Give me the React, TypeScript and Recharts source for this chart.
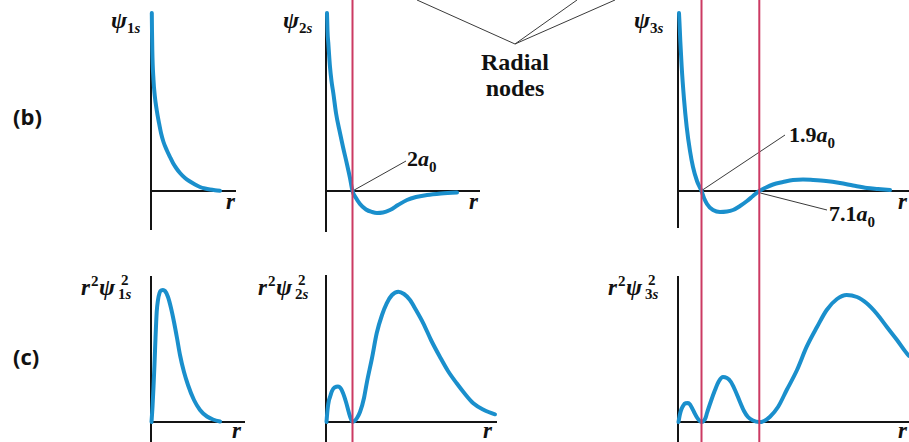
import React from "react";
import { LineChart, Line, XAxis, YAxis, ReferenceLine } from "recharts";

// ---------- data (r in arbitrary units, value in arbitrary units) ----------
const psi1s: [number, number][] = [
  [0.8, 178], [1, 160], [1.3, 141], [2.5, 111], [3.8, 95], [5.7, 81], [8, 68], [10, 58], [12.5, 49],
  [15.7, 41], [19, 34], [22, 28], [25.5, 22.5], [29, 18], [34, 13], [39, 9.5], [44, 6.5], [49, 4],
  [54, 2.5], [59, 1.5], [64, 0.8], [69, 0.3],
];
const rho1s: [number, number][] = [
  [0.5, 0], [1.5, 15], [2.5, 35], [3.5, 58], [4.5, 84], [5.7, 110], [7, 122], [8.5, 129],
  [10, 131.5], [12, 132], [14, 131], [17, 125], [20, 114], [23, 100], [26, 84], [29, 67],
  [33, 50], [37, 37], [43, 22], [49, 12], [56, 5.5], [62, 2.5], [69, 0.5],
];
const psi2s: [number, number][] = [
  [1, 178], [1.5, 160], [2.3, 148], [4, 124], [5.5, 110], [7.3, 98], [10, 78], [14, 58], [17, 44],
  [20.7, 28], [24, 13], [26.5, 0], [30, -7], [34, -13], [40, -18.5], [46, -21], [51, -22],
  [57, -21.5], [64, -19], [72, -14], [81, -9], [90, -6], [101, -4], [115, -2.5], [131, -1.5],
];
const rho2s: [number, number][] = [
  [0.5, 0], [1.5, 12], [3, 22], [4, 25], [6, 31], [8.5, 34.5], [12, 35.5], [14.5, 34],
  [17, 29], [20, 20], [23, 9], [25, 3], [26.5, 0], [28.5, 1], [31, 4], [34, 10], [38, 24],
  [40.7, 38.7], [46, 64], [50.7, 88.7], [56, 107], [60.7, 118.7], [66, 127], [72.3, 130.3],
  [78, 128], [84, 122], [90, 112], [97.3, 98.7], [105, 82], [114, 65], [122, 51], [130.7, 38.7],
  [139, 28], [147.3, 18.7], [158, 12], [169, 7.7],
];
const psi3s: [number, number][] = [
  [1, 178], [1.5, 168], [2.3, 150], [3.7, 124], [6, 92], [8.7, 64], [12, 40], [15, 24],
  [19, 10], [23.5, 0], [26, -7], [29, -13], [35, -19], [42, -21], [49, -20.5], [55, -19],
  [62, -15], [69, -10], [75, -5], [81.3, 0], [88, 3.5], [95, 6.5], [105, 9], [115, 11],
  [125, 11.5], [135, 11], [148, 10], [162, 8], [175, 5.5], [189, 3], [200, 2], [212, 1],
];
const rho3s: [number, number][] = [
  [0.5, 0], [2, 8], [3.5, 13], [5, 16], [7.5, 18.7], [10, 19], [12, 17.5], [14, 14],
  [16, 10], [19, 4.5], [21.5, 1.2], [23.5, 0], [25.5, 1], [27.5, 4], [29, 9], [33, 21],
  [37, 32], [41, 41], [45, 45], [49, 44], [53, 40], [57, 32], [62, 20], [66, 11], [70, 5],
  [75, 1.5], [81.3, 0], [86, 1], [92, 5.3], [100, 15], [108.7, 32], [119, 52], [128.7, 75.3],
  [139, 95], [148.7, 112], [159, 123], [168.7, 127], [179, 125], [188.7, 118.7], [199, 108],
  [208.7, 95.3], [219, 82], [228.7, 68.7], [231, 66],
];

// radial node positions (same r units)
const nodes1s: number[] = [];
const nodes2s = [26.5];
const nodes3s = [23.5, 81.3];
// node callout labels
const nodeLabels2s = ["2"];
const nodeLabels3s = ["1.9", "7.1"];
const orbitalNames = ["1s", "2s", "3s"];

const toRows = (a: [number, number][]) => a.map(([x, y]) => ({ x, y }));

const BLUE = "#1a8fcc";
const RED = "#cc3a63";
const AXIS = "#141414";
const GREY = "#3a3a3a";
const serif = "'Liberation Serif', 'DejaVu Serif', serif";

type Callout = { from: [number, number]; to: [number, number] };

function Column(props: {
  left: number;
  width: number;
  top: [number, number][];
  bot: [number, number][];
  nodes: number[];
  topAxis: [number, number, number]; // yTop, yBottom, xEnd
  botAxis: [number, number, number];
  callouts: Callout[];
}) {
  const { left, width, top, bot, nodes, topAxis, botAxis, callouts } = props;
  return (
    <div style={{ position: "absolute", left: left - 10, top: 0 }}>
      <LineChart width={width + 10} height={442} margin={{ top: 0, right: 0, bottom: 0, left: 10 }}>
        <XAxis type="number" dataKey="x" domain={[0, width]} hide />
        <YAxis yAxisId="top" type="number" domain={[-251, 191]} hide />
        <YAxis yAxisId="bot" type="number" domain={[-20, 422]} hide />
        <ReferenceLine yAxisId="top" segment={[{ x: 0, y: topAxis[0] }, { x: 0, y: topAxis[1] }]} stroke={AXIS} strokeWidth={2} />
        <ReferenceLine yAxisId="top" segment={[{ x: 0, y: 0 }, { x: topAxis[2], y: 0 }]} stroke={AXIS} strokeWidth={2} />
        <ReferenceLine yAxisId="bot" segment={[{ x: 0, y: botAxis[0] }, { x: 0, y: botAxis[1] }]} stroke={AXIS} strokeWidth={2} />
        <ReferenceLine yAxisId="bot" segment={[{ x: 0, y: 0 }, { x: botAxis[2], y: 0 }]} stroke={AXIS} strokeWidth={2} />
        {callouts.map((c, i) => (
          <ReferenceLine key={"c" + i} yAxisId="top" segment={[{ x: c.from[0], y: c.from[1] }, { x: c.to[0], y: c.to[1] }]} stroke={GREY} strokeWidth={1} />
        ))}
        <Line yAxisId="top" data={toRows(top)} dataKey="y" type="monotone" dot={false} stroke={BLUE} strokeWidth={4} strokeLinecap="round" isAnimationActive={false} />
        <Line yAxisId="bot" data={toRows(bot)} dataKey="y" type="monotone" dot={false} stroke={BLUE} strokeWidth={4} strokeLinecap="round" isAnimationActive={false} />
        {nodes.map((n, i) => (
          <ReferenceLine key={"n" + i} yAxisId="top" x={n} stroke={RED} strokeWidth={2} />
        ))}
      </LineChart>
    </div>
  );
}

function PsiLabel({ x, y, sub }: { x: number; y: number; sub: string }) {
  return (
    <text x={x} y={y} fontFamily={serif} fontWeight="bold" fontSize={24} fill="#111">
      <tspan fontStyle="italic">ψ</tspan>
      <tspan fontSize={15} dy={5}>{sub[0]}</tspan>
      <tspan fontSize={15} fontStyle="italic">{sub.slice(1)}</tspan>
    </text>
  );
}

function R2Psi2Label({ x, y, sub }: { x: number; y: number; sub: string }) {
  return (
    <g fontFamily={serif} fontWeight="bold" fill="#111">
      <text x={x} y={y} fontSize={23} fontStyle="italic">r</text>
      <text x={x + 10} y={y - 9} fontSize={15}>2</text>
      <text x={x + 18} y={y} fontSize={24} fontStyle="italic">ψ</text>
      <text x={x + 40} y={y - 10} fontSize={15}>2</text>
      <text x={x + 37} y={y + 4} fontSize={15}>
        {sub[0]}
        <tspan fontStyle="italic">{sub.slice(1)}</tspan>
      </text>
    </g>
  );
}

function NodeLabel({ x, y, num }: { x: number; y: number; num: string }) {
  return (
    <text x={x} y={y} fontFamily={serif} fontWeight="bold" fontSize={22} fill="#111">
      {num}
      <tspan fontStyle="italic">a</tspan>
      <tspan fontSize={15} dy={6}>0</tspan>
    </text>
  );
}

function RLabel({ x, y }: { x: number; y: number }) {
  return (
    <text x={x} y={y} fontFamily={serif} fontWeight="bold" fontStyle="italic" fontSize={23} fill="#111">
      r
    </text>
  );
}

export default function App() {
  return (
    <div style={{ position: "absolute", left: 0, top: 0, width: 909, height: 442, background: "#fff", overflow: "hidden" }}>
      <Column left={151} width={100} top={psi1s} bot={rho1s} nodes={nodes1s}
        topAxis={[178, -39, 85]} botAxis={[146, -20, 94]} callouts={[]} />
      <Column left={326} width={180} top={psi2s} bot={rho2s} nodes={nodes2s}
        topAxis={[178, -41, 154]} botAxis={[147, -20, 171]}
        callouts={[{ from: [nodes2s[0], 0], to: [80, 30] }]} />
      <Column left={678} width={231} top={psi3s} bot={rho3s} nodes={nodes3s}
        topAxis={[178, -37, 231]} botAxis={[146, -20, 231]}
        callouts={[
          { from: [nodes3s[0] + 1, 1], to: [107, 56] },
          { from: [nodes3s[1] + 1, -2], to: [149, -19] },
        ]} />
      <svg width={909} height={442} style={{ position: "absolute", left: 0, top: 0, pointerEvents: "none" }}>
        <g stroke={GREY} strokeWidth={1}>
          <line x1={417} y1={0} x2={515} y2={44} />
          <line x1={515} y1={44} x2={577} y2={0} />
          <line x1={515} y1={44} x2={615} y2={0} />
        </g>
        <g fontFamily={serif} fontWeight="bold" fontSize={24} fill="#111" textAnchor="middle">
          <text x={515} y={70}>Radial</text>
          <text x={515} y={96}>nodes</text>
        </g>
        <g fontFamily="'Open Sans', 'DejaVu Sans', sans-serif" fontWeight="bold" fontSize={22} fill="#111">
          <text x={13} y={125}>(b)</text>
          <text x={13} y={365}>(c)</text>
        </g>
        <PsiLabel x={111} y={28} sub={orbitalNames[0]} />
        <PsiLabel x={283} y={28} sub={orbitalNames[1]} />
        <PsiLabel x={634} y={28} sub={orbitalNames[2]} />
        <R2Psi2Label x={81} y={295} sub={orbitalNames[0]} />
        <R2Psi2Label x={258} y={295} sub={orbitalNames[1]} />
        <R2Psi2Label x={608} y={295} sub={orbitalNames[2]} />
        <NodeLabel x={407} y={166} num={nodeLabels2s[0]} />
        <NodeLabel x={789} y={142} num={nodeLabels3s[0]} />
        <NodeLabel x={829} y={221} num={nodeLabels3s[1]} />
        <RLabel x={226} y={209} />
        <RLabel x={469} y={209} />
        <RLabel x={898} y={209} />
        <RLabel x={232} y={438} />
        <RLabel x={483} y={438} />
        <RLabel x={898} y={438} />
      </svg>
    </div>
  );
}
